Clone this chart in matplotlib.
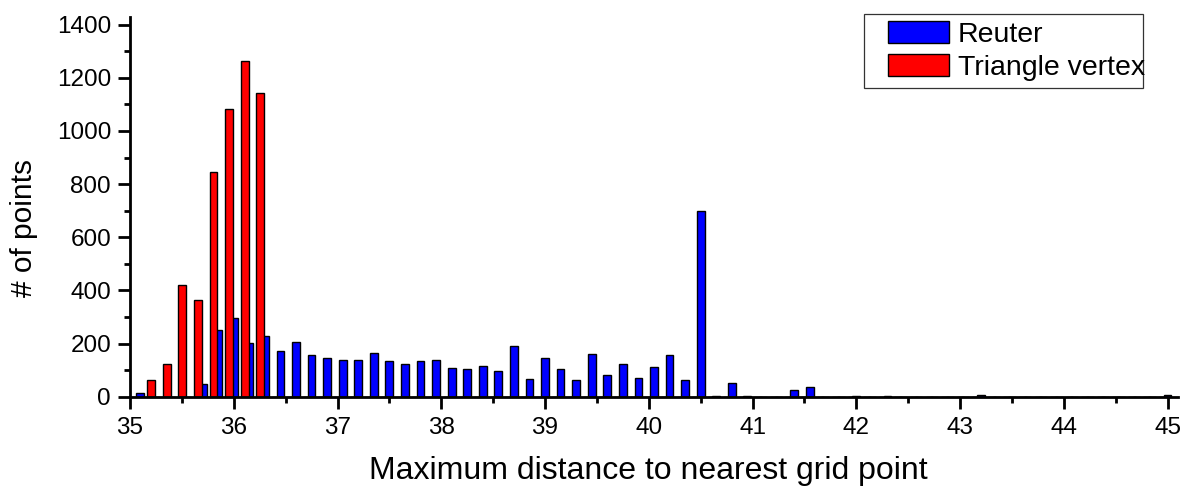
import numpy as np
import matplotlib.pyplot as plt
import matplotlib.patches as mpatches
from matplotlib.legend_handler import HandlerPatch
from matplotlib.ticker import MultipleLocator

# ------------------------------------------------------
# data (bin width 0.15)
bin_start = 35.1
bin_step = 0.15
reuter = [15, 0, 0, 0, 47, 251, 295, 201, 229, 173,
          207, 157, 145, 139, 139, 166, 134, 123, 136, 139,
          109, 105, 114, 97, 191, 67, 145, 105, 63, 162,
          83, 123, 72, 113, 157, 63, 700, 3, 50, 3,
          0, 0, 27, 37, 0, 0, 3, 0, 2, 0,
          0, 0, 0, 0, 8, 0, 0, 0, 0, 0,
          0, 0, 0, 0, 0, 0, 6]
# triangle vertex counts, same bins as reuter, drawn a bit left
triangle = [0, 63, 123, 421, 362, 844, 1084, 1263, 1143] + [0] * 58
bins = np.round(bin_start + bin_step * np.arange(len(reuter)), 2)
# ------------------------------------------------------

plt.rcParams['font.family'] = ['Liberation Sans', 'DejaVu Sans']

fig = plt.figure(figsize=(11.87, 4.91), dpi=100)
ax = fig.add_axes([0.1095, 0.1921, 0.8829, 0.7739])

w = 0.075
ax.bar(bins, reuter, width=w, color='#0000ff', edgecolor='black', linewidth=1.0)
ax.bar(bins - 0.045, triangle, width=w, color='#ff0000', edgecolor='black', linewidth=1.0)

ax.set_xlim(35, 45.1)
ax.set_ylim(0, 1430)
ax.xaxis.set_major_locator(MultipleLocator(1))
ax.xaxis.set_minor_locator(MultipleLocator(0.5))
ax.yaxis.set_major_locator(MultipleLocator(200))
ax.yaxis.set_minor_locator(MultipleLocator(100))

for s in ['top', 'right']:
    ax.spines[s].set_visible(False)
for s in ['left', 'bottom']:
    ax.spines[s].set_linewidth(2.0)
ax.tick_params(which='major', direction='out', length=8.6, width=2.0, labelsize=17.5, pad=6)
ax.tick_params(which='minor', direction='out', length=4.5, width=2.0)
ax.tick_params(axis='y', which='major', pad=5)

ax.set_xlabel('Maximum distance to nearest grid point', fontsize=23)
ax.set_ylabel('# of points', fontsize=21.5)
ax.xaxis.set_label_coords(0.495, -0.155)
ax.yaxis.set_label_coords(-0.088, 0.444)

# legend
fs = 20.5
h_blue = mpatches.Patch(facecolor='#0000ff', edgecolor='black', linewidth=1.0)
h_red = mpatches.Patch(facecolor='#ff0000', edgecolor='black', linewidth=1.0)
leg = ax.legend([h_blue, h_red], ['Reuter', 'Triangle vertex'],
                handler_map={mpatches.Patch: HandlerPatch(xpad=0.6)},
                loc='upper left', bbox_to_anchor=(0.7279, 0.82, 0.235, 0.1515),
                bbox_transform=fig.transFigure, mode='expand', borderaxespad=0,
                fontsize=fs, borderpad=0.25, handlelength=2.74, handleheight=0.8,
                handletextpad=0.3, labelspacing=0.22, fancybox=False, framealpha=1)
leg.get_frame().set_edgecolor('#333333')
leg.get_frame().set_linewidth(0.9)

plt.savefig('out.png', dpi=100)
